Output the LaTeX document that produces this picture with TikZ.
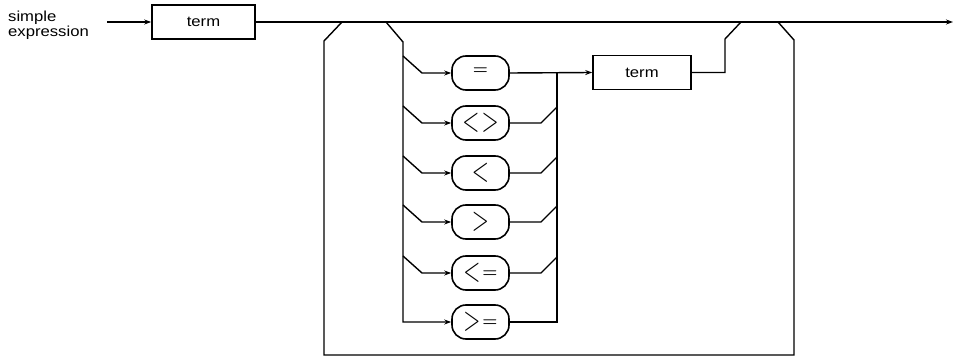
\documentclass[tikz,border=0pt]{standalone}
\usepackage{fontspec}
\setmainfont{Liberation Sans}
\newfontfamily\lblfont[FakeStretch=1.15]{Liberation Sans}
\usetikzlibrary{arrows.meta}
\newcommand\symlt{\scalebox{0.9}[1.4]{\Huge$<$}}
\newcommand\symgt{\scalebox{0.9}[1.4]{\Huge$>$}}
\newcommand\symeq{\raisebox{4.4pt}{\LARGE\boldmath$=$}}
\begin{document}
\begin{tikzpicture}[x=1pt,y=-1pt,
  conn/.style={line width=1.4pt},
  arr/.style={conn,-{Stealth[length=7pt,width=5pt]}},
  termbox/.style={draw, line width=1.6pt, minimum height=34pt, inner sep=0pt,
    font=\lblfont\fontsize{14.5}{15}\selectfont},
  opbox/.style={draw, line width=1.6pt, rounded corners=14pt, minimum width=57pt,
    minimum height=34pt, inner sep=0pt}]
\useasboundingbox (0,0) rectangle (956,358);

% label
\node[anchor=north west, inner sep=0pt, align=left,
  font=\lblfont\fontsize{14.5}{13.5}\selectfont] (lbl) at (8,11) {simple\\expression};

% boxes
\node[termbox, minimum width=103pt] (t1) at (203.5,22) {term};
\node[termbox, minimum width=98pt] (t2) at (642,72.5) {term};
\node[opbox] (eq) at (480.5,73)  {\symeq};
\node[opbox] (ne) at (480.5,123) {\symlt\hspace{2pt}\symgt};
\node[opbox] (lt) at (480.5,173) {\symlt};
\node[opbox] (gt) at (480.5,222) {\symgt};
\node[opbox] (le) at (480.5,273) {\symlt\hspace{2pt}\symeq};
\node[opbox] (ge) at (480.5,322) {\symgt\hspace{2pt}\symeq};

% junction points
\coordinate (in)  at (107,22);
\coordinate (out) at (953,22);
\coordinate (b1)  at (342,22);
\coordinate (b2)  at (386,22);
\coordinate (m1)  at (741,22);
\coordinate (m2)  at (778,22);

% main line
\draw[arr] (in) -- (t1.west);
\draw[arr] (t1.east) -- (out);

% bypass loop
\draw[conn] (b1) -- (324,41) -- (324,355) -- (794,355) -- (794,40) -- (m2);

% left rail of the alternatives
\draw[arr] (b2) -- (403,42) -- (403,322) -- (ge.west);
\foreach \n/\y in {eq/73, ne/123, lt/173, gt/222, le/273}
  \draw[arr] (403,\y-17) -- (422,\y) -- (\n.west);

% right rail
\foreach \n/\y in {ne/123, lt/173, gt/222, le/273}
  \draw[conn] (\n.east) -- (541,\y) -- (557,\y-16);
\draw[conn] (ge.east) -- (557,322) -- (557,73);

% to second term and back to main line
\draw[arr] (eq.east) -- (t2.west);
\draw[conn] (t2.east) -- (725,72.5) -- (725,39) -- (m1);
\end{tikzpicture}
\end{document}
